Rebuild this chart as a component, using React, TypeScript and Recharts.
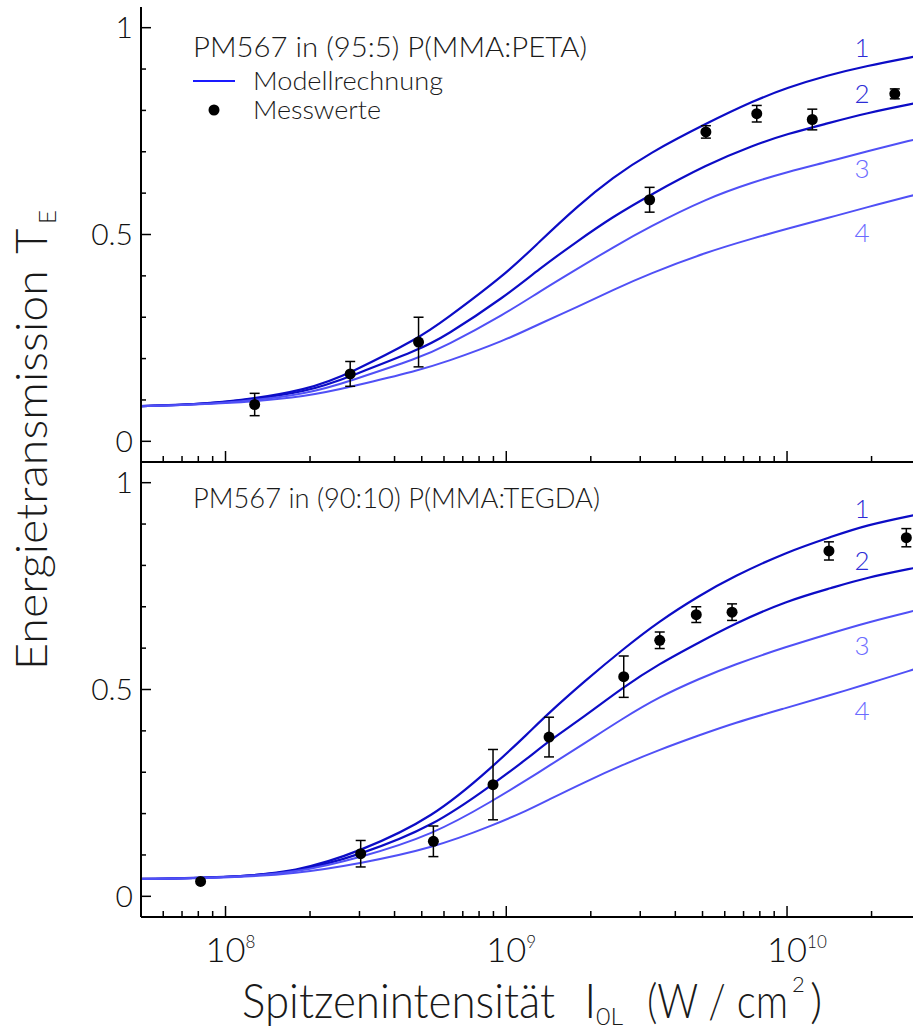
import React from 'react';
import { ComposedChart, Line, Scatter, ErrorBar, XAxis, YAxis } from 'recharts';

const FONT = 'Lato, "Liberation Sans", "DejaVu Sans", sans-serif';
const DARK = '#0c0cc6';
const LIGHT = '#5050f6';

// Modellrechnung, oberes Bild (95:5 P(MMA:PETA)), Intensität in W/cm²
const topModelI = [5e7, 1e8, 2e8, 2.8e8, 4.9e8, 6e8, 1e9, 1.3e9, 1.8e9, 2.4e9, 3.2e9, 5.2e9, 7.6e9, 1e10, 1.4e10, 1.9e10, 2.9e10];
const topCurve1 = [0.085, 0.092, 0.125, 0.166, 0.25, 0.292, 0.405, 0.48, 0.57, 0.638, 0.695, 0.77, 0.823, 0.855, 0.885, 0.907, 0.931];
const topCurve2 = [0.085, 0.092, 0.12, 0.158, 0.222, 0.252, 0.352, 0.415, 0.485, 0.543, 0.593, 0.67, 0.716, 0.743, 0.769, 0.793, 0.818];
const topCurve3 = [0.085, 0.091, 0.115, 0.147, 0.202, 0.228, 0.31, 0.36, 0.418, 0.469, 0.517, 0.588, 0.627, 0.651, 0.676, 0.7, 0.731];
const topCurve4 = [0.085, 0.09, 0.109, 0.132, 0.172, 0.19, 0.245, 0.283, 0.325, 0.366, 0.404, 0.458, 0.491, 0.514, 0.54, 0.565, 0.597];

// Messwerte oben
const topMeasI = [1.27e8, 2.78e8, 4.87e8, 3.24e9, 5.14e9, 7.8e9, 1.23e10, 2.42e10];
const topMeasT = [0.089, 0.163, 0.24, 0.584, 0.748, 0.792, 0.778, 0.84];
const topMeasErr = [0.027, 0.03, 0.06, 0.03, 0.015, 0.02, 0.025, 0.012];

// Modellrechnung, unteres Bild (90:10 P(MMA:TEGDA))
const botModelI = [5e7, 1e8, 1.8e8, 3e8, 5.5e8, 9e8, 1.2e9, 1.4e9, 1.9e9, 2.6e9, 3.5e9, 4.9e9, 6.4e9, 1e10, 1.45e10, 1.9e10, 2.9e10];
const botCurve1 = [0.042, 0.045, 0.059, 0.108, 0.19, 0.315, 0.395, 0.44, 0.52, 0.597, 0.665, 0.728, 0.772, 0.833, 0.87, 0.897, 0.923];
const botCurve2 = [0.042, 0.045, 0.058, 0.1, 0.169, 0.272, 0.335, 0.373, 0.435, 0.505, 0.562, 0.615, 0.657, 0.715, 0.746, 0.77, 0.795];
const botCurve3 = [0.042, 0.045, 0.057, 0.093, 0.149, 0.232, 0.284, 0.313, 0.37, 0.43, 0.482, 0.527, 0.559, 0.604, 0.637, 0.661, 0.692];
const botCurve4 = [0.042, 0.044, 0.055, 0.079, 0.117, 0.172, 0.209, 0.232, 0.276, 0.318, 0.354, 0.39, 0.418, 0.456, 0.488, 0.512, 0.551];

// Messwerte unten
const botMeasI = [8.15e7, 3.03e8, 5.5e8, 8.97e8, 1.42e9, 2.62e9, 3.52e9, 4.75e9, 6.37e9, 1.41e10, 2.66e10];
const botMeasT = [0.036, 0.103, 0.133, 0.27, 0.385, 0.531, 0.619, 0.681, 0.687, 0.835, 0.867];
const botMeasErr = [0, 0.032, 0.037, 0.085, 0.048, 0.05, 0.02, 0.019, 0.02, 0.022, 0.022];

// Achsen
const xDomain = [5e7, 3e10];
const yDomain = [-0.05, 1.05];
const xMajor = [1e8, 1e9, 1e10];
const xMinor = [6e7, 7e7, 8e7, 9e7, 2e8, 3e8, 4e8, 5e8, 6e8, 7e8, 8e8, 9e8, 2e9, 3e9, 4e9, 5e9, 6e9, 7e9, 8e9, 9e9, 2e10];
const xTicks = [...xMinor, ...xMajor].sort((a, b) => a - b);
const yTicks = [0, 0.1, 0.2, 0.3, 0.4, 0.5, 0.6, 0.7, 0.8, 0.9, 1];
const yMajor = [0, 0.5, 1];
const yLabels: Record<string, string> = { '0': '0', '0.5': '0.5', '1': '1' };

const curveColors = [DARK, DARK, LIGHT, LIGHT];

const toSeries = (xs: number[], ys: number[]) => xs.map((x, i) => ({ x, t: ys[i] }));
const toPoints = (xs: number[], ts: number[], errs: number[]) =>
  xs.map((x, i) => ({ x, t: ts[i], err: errs[i] }));

const isMajorX = (v: number) => xMajor.some(m => Math.abs(m - v) / m < 1e-6);
const isMajorY = (v: number) => yMajor.some(m => Math.abs(m - v) < 1e-6);

// Ticks zeigen nach innen
const BottomTick = (withLabel: boolean) => (props: any) => {
  const { x, y, payload } = props;
  const major = isMajorX(payload.value);
  const len = major ? 11 : 6;
  const exp = Math.round(Math.log10(payload.value));
  return (
    <g>
      <line x1={x} x2={x} y1={y} y2={y - len} stroke="#000" strokeWidth={1.5} />
      {withLabel && major && (
        <text fontFamily={FONT} fontWeight={300} fill="#111">
          <tspan x={x - 20} y={y + 45} fontSize={33} textLength={40} lengthAdjust="spacingAndGlyphs">10</tspan>
          <tspan x={x + 20} y={y + 31} fontSize={17}>{exp}</tspan>
        </text>
      )}
    </g>
  );
};

const TopTick = (props: any) => {
  const { x, y, payload } = props;
  const len = isMajorX(payload.value) ? 11 : 6;
  return <line x1={x} x2={x} y1={y} y2={y + len} stroke="#000" strokeWidth={1.5} />;
};

const LeftTick = (props: any) => {
  const { x, y, payload } = props;
  const major = isMajorY(payload.value);
  const len = major ? 10 : 5;
  return (
    <g>
      <line x1={x} x2={x + len} y1={y} y2={y} stroke="#000" strokeWidth={1.5} />
      {major && (
        <text x={x - 8} y={y} dy="0.36em" textAnchor="end" fontFamily={FONT} fontWeight={300} fontSize={30} fill="#111">
          {yLabels[String(payload.value)]}
        </text>
      )}
    </g>
  );
};

const RightTick = (props: any) => {
  const { x, y } = props;
  return <line x1={x} x2={x - 10} y1={y} y2={y} stroke="#000" strokeWidth={1.5} />;
};

interface PanelProps {
  modelI: number[];
  curves: number[][];
  measI: number[];
  measT: number[];
  measErr: number[];
  height: number;
  bottomHeight: number;
  isLower: boolean;
}

const Panel: React.FC<PanelProps> = ({ modelI, curves, measI, measT, measErr, height, bottomHeight, isLower }) => {
  const points = toPoints(measI, measT, measErr);
  return (
    <ComposedChart width={921} height={height} margin={{ top: 7, right: 0, bottom: 0, left: 0 }}>
      <XAxis
        xAxisId="main"
        dataKey="x"
        type="number"
        scale="log"
        domain={xDomain}
        allowDataOverflow
        ticks={xTicks}
        interval={0}
        tickSize={0}
        tickMargin={0}
        tickLine={false}
        height={bottomHeight}
        axisLine={{ stroke: '#000', strokeWidth: 2 }}
        tick={BottomTick(isLower)}
      />
      <XAxis
        xAxisId="top"
        orientation="top"
        type="number"
        scale="log"
        domain={xDomain}
        allowDataOverflow
        ticks={isLower ? xTicks : []}
        interval={0}
        tickSize={0}
        tickMargin={0}
        tickLine={false}
        height={0}
        axisLine={{ stroke: '#000', strokeWidth: 2 }}
        tick={isLower ? TopTick : false}
      />
      <YAxis
        yAxisId="left"
        type="number"
        domain={yDomain}
        allowDataOverflow
        ticks={yTicks}
        interval={0}
        tickSize={0}
        tickMargin={0}
        tickLine={false}
        width={141}
        axisLine={{ stroke: '#000', strokeWidth: 2 }}
        tick={LeftTick}
      />
      <YAxis
        yAxisId="right"
        orientation="right"
        type="number"
        domain={yDomain}
        allowDataOverflow
        ticks={yMajor}
        interval={0}
        tickSize={0}
        tickMargin={0}
        tickLine={false}
        width={0}
        axisLine={{ stroke: '#000', strokeWidth: 2 }}
        tick={RightTick}
      />
      {curves.map((c, i) => (
        <Line
          key={i}
          xAxisId="main"
          yAxisId="left"
          data={toSeries(modelI, c)}
          dataKey="t"
          type="basis"
          stroke={curveColors[i]}
          strokeWidth={i < 2 ? 2.2 : 2}
          dot={false}
          activeDot={false}
          isAnimationActive={false}
        />
      ))}
      <Scatter
        xAxisId="main"
        yAxisId="left"
        data={points}
        dataKey="t"
        fill="#000"
        isAnimationActive={false}
        shape={(p: any) => <circle cx={p.cx} cy={p.cy} r={5.5} fill="#000" />}
      >
        <ErrorBar dataKey="err" direction="y" width={5} stroke="#000" strokeWidth={1.5} />
      </Scatter>
    </ComposedChart>
  );
};

const txt = { fontFamily: FONT, fontWeight: 300, fill: '#1a1a1a' } as const;

const App: React.FC = () => {
  return (
    <div style={{ position: 'fixed', top: 0, left: 0, width: 913, height: 1032, overflow: 'hidden', background: '#fff' }}>
      <div style={{ position: 'absolute', top: 0, left: 0 }}>
        <Panel
          modelI={topModelI}
          curves={[topCurve1, topCurve2, topCurve3, topCurve4]}
          measI={topMeasI}
          measT={topMeasT}
          measErr={topMeasErr}
          height={470}
          bottomHeight={8}
          isLower={false}
        />
      </div>
      <div style={{ position: 'absolute', top: 455, left: 0 }}>
        <Panel
          modelI={botModelI}
          curves={[botCurve1, botCurve2, botCurve3, botCurve4]}
          measI={botMeasI}
          measT={botMeasT}
          measErr={botMeasErr}
          height={577}
          bottomHeight={115}
          isLower={true}
        />
      </div>
      <svg width={913} height={1032} style={{ position: 'absolute', top: 0, left: 0, pointerEvents: 'none' }}>
        {/* Überschriften der Teilbilder und Legende */}
        <text x={193} y={57} fontSize={27} textLength={394} lengthAdjust="spacingAndGlyphs" {...txt}>PM567 in (95:5) P(MMA:PETA)</text>
        <line x1={193} x2={235} y1={81} y2={81} stroke="#1a1aff" strokeWidth={2} />
        <text x={253} y={90} fontSize={25} textLength={190} lengthAdjust="spacingAndGlyphs" {...txt}>Modellrechnung</text>
        <circle cx={214} cy={110} r={5.5} fill="#000" />
        <text x={253} y={119} fontSize={25} textLength={128} lengthAdjust="spacingAndGlyphs" {...txt}>Messwerte</text>
        <text x={193} y={508} fontSize={27} textLength={407} lengthAdjust="spacingAndGlyphs" {...txt}>PM567 in (90:10) P(MMA:TEGDA)</text>

        {/* Kurvennummern */}
        <g fontFamily={FONT} fontWeight={300} fontSize={26} textAnchor="middle">
          <text x={862} y={57} fill="#2c2cd6">1</text>
          <text x={862} y={103} fill="#2c2cd6">2</text>
          <text x={862} y={178} fill="#6b6bff">3</text>
          <text x={862} y={242} fill="#6b6bff">4</text>
          <text x={862} y={518} fill="#2c2cd6">1</text>
          <text x={862} y={570} fill="#2c2cd6">2</text>
          <text x={862} y={655} fill="#6b6bff">3</text>
          <text x={862} y={720} fill="#6b6bff">4</text>
        </g>

        {/* Achsentitel */}
        <text transform="translate(47,670) rotate(-90)" fontSize={44} {...txt}>
          <tspan x={0} y={0} textLength={400} lengthAdjust="spacingAndGlyphs">Energietransmission</tspan>
          <tspan x={416} y={0}>T</tspan>
          <tspan x={446} y={9} fontSize={24}>E</tspan>
        </text>
        <text fontSize={48} {...txt}>
          <tspan x={242} y={1018} textLength={313} lengthAdjust="spacingAndGlyphs">Spitzenintensität</tspan>
          <tspan x={584} y={1018}>I</tspan>
          <tspan x={596} y={1025} fontSize={24} textLength={27} lengthAdjust="spacingAndGlyphs">0L</tspan>
          <tspan x={647} y={1018} textLength={141} lengthAdjust="spacingAndGlyphs">(W / cm</tspan>
          <tspan x={792} y={992} fontSize={22}>2</tspan>
          <tspan x={810} y={1018}>)</tspan>
        </text>
      </svg>
    </div>
  );
};

export default App;
